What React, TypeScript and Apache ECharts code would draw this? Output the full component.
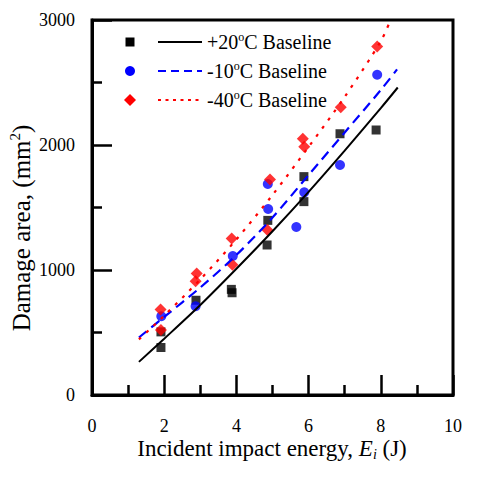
import React, { useEffect, useRef } from "react";
import * as echarts from "echarts";

const xTickLabels = ["0", "2", "4", "6", "8", "10"];
const yTickLabels = ["0", "1000", "2000", "3000"];
const seriesNames = ["+20°C Baseline", "-10°C Baseline", "-40°C Baseline"];

const e20 = [1.91, 1.91, 2.88, 3.86, 3.88, 4.85, 4.87, 5.87, 5.87, 6.87, 7.87];
const a20 = [380, 505, 758, 845, 818, 1200, 1397, 1547, 1747, 2090, 2120];
const e10 = [1.92, 2.87, 3.9, 4.88, 4.87, 5.66, 5.88, 6.87, 7.9];
const a10 = [630, 710, 1112, 1488, 1688, 1344, 1621, 1840, 2562];
const e40 = [1.9, 1.91, 2.9, 2.87, 3.87, 3.89, 4.93, 4.86, 5.84, 5.88, 6.89, 7.9];
const a40 = [685, 520, 973, 910, 1253, 1042, 1725, 1320, 2050, 1987, 2302, 2788];

const fitE20 = [1.3, 2, 3, 4, 5, 6, 7, 8, 8.47];
const fitA20 = [265, 450, 720, 1010, 1310, 1625, 1955, 2295, 2460];
const fitE10 = [1.3, 2, 3, 4, 5, 6, 7, 8, 8.45];
const fitA10 = [460, 625, 860, 1120, 1420, 1760, 2100, 2440, 2605];
const fitE40 = [1.3, 2, 3, 4, 5, 6, 7, 8, 8.27];
const fitA40 = [445, 635, 925, 1245, 1600, 1985, 2385, 2830, 3000];

const zip = (xs: number[], ys: number[]) => xs.map((x, i) => [x, ys[i]]);

const FONT = "Liberation Serif";

export default function App() {
  const ref = useRef<HTMLDivElement>(null);

  useEffect(() => {
    if (!ref.current) return;
    const chart = echarts.init(ref.current, undefined, { renderer: "svg" });

    const axisCommon = {
      axisLine: { show: true, onZero: false, lineStyle: { color: "#000", width: 3 } },
      axisTick: { show: true, inside: true, length: 20, lineStyle: { color: "#000", width: 2.5 } },
      minorTick: { show: true, splitNumber: 2, length: 10, lineStyle: { color: "#000", width: 2.5 } },
      splitLine: { show: false },
      minorSplitLine: { show: false },
    };

    const legendRows = [
      { y: 42, color: "#000", dash: null as number[] | null },
      { y: 71, color: "#0000ff", dash: [8, 5] },
      { y: 100, color: "#ff0000", dash: [3, 4.5] },
    ];

    const legendGraphics: any[] = [];
    legendGraphics.push({
      type: "rect",
      shape: { x: 125.5, y: 37.5, width: 9, height: 9 },
      style: { fill: "#000" },
    });
    legendGraphics.push({
      type: "circle",
      shape: { cx: 130, cy: 71, r: 5 },
      style: { fill: "#0000ff" },
    });
    legendGraphics.push({
      type: "polygon",
      shape: { points: [[130, 94], [136, 100], [130, 106], [124, 100]] },
      style: { fill: "#ff0000" },
    });
    legendRows.forEach((r, i) => {
      legendGraphics.push({
        type: "line",
        shape: { x1: 158, y1: r.y, x2: 202, y2: r.y },
        style: { stroke: r.color, lineWidth: 2, lineDash: r.dash || undefined },
      });
      const parts = seriesNames[i].split("°");
      legendGraphics.push({
        type: "text",
        x: 207,
        y: r.y,
        style: {
          text: "{n|" + parts[0] + "}{sup|o}{n|" + parts[1] + "}",
          fill: "#000",
          font: "20px serif",
          align: "left",
          verticalAlign: "middle",
          rich: {
            n: { font: "20px serif", fill: "#000", lineHeight: 22 },
            sup: { font: "12px serif", fill: "#000", lineHeight: 12, verticalAlign: "top" },
          },
        },
      });
    });

    chart.setOption({
      animation: false,
      backgroundColor: "#fff",
      grid: {
        left: 92,
        top: 20,
        width: 361,
        height: 375,
        show: true,
        borderColor: "#000",
        borderWidth: 3,
        containLabel: false,
      },
      xAxis: {
        type: "value",
        min: 0,
        max: 10,
        interval: 2,
        ...axisCommon,
        axisLabel: {
          color: "#000",
          fontFamily: "serif",
          fontSize: 18,
          margin: 22,
          formatter: (v: number) => xTickLabels[Math.round(v / 2)] ?? "",
        },
      },
      yAxis: {
        type: "value",
        min: 0,
        max: 3000,
        interval: 1000,
        ...axisCommon,
        axisLabel: {
          color: "#000",
          fontFamily: FONT,
          fontSize: 18,
          margin: 17,
          formatter: (v: number) => yTickLabels[Math.round(v / 1000)] ?? "",
        },
      },
      series: [
        { type: "scatter", name: seriesNames[0], data: zip(e20, a20), symbol: "rect", symbolSize: 9, itemStyle: { color: "#000" }, z: 2 },
        { type: "scatter", name: seriesNames[1], data: zip(e10, a10), symbol: "circle", symbolSize: 10, itemStyle: { color: "#0000ff" }, z: 3 },
        { type: "scatter", name: seriesNames[2], data: zip(e40, a40), symbol: "diamond", symbolSize: 12, itemStyle: { color: "#ff0000" }, z: 4 },
        { type: "line", data: zip(fitE20, fitA20), smooth: 0.3, showSymbol: false, symbol: "none", lineStyle: { color: "#000", width: 2 }, z: 5 },
        { type: "line", data: zip(fitE10, fitA10), smooth: 0.3, showSymbol: false, symbol: "none", lineStyle: { color: "#0000ff", width: 2.2, type: [10, 6] }, z: 5 },
        { type: "line", data: zip(fitE40, fitA40), smooth: 0.3, showSymbol: false, symbol: "none", lineStyle: { color: "#ff0000", width: 2.2, type: [3, 7] }, z: 5 },
      ],
      graphic: [
        ...legendGraphics,
        {
          type: "text",
          x: 272,
          y: 448,
          style: {
            text: "{n|Incident impact energy, }{it|E}{sub|i}{n| (J)}",
            fill: "#000",
            font: "23px Liberation Serif",
            align: "center",
            verticalAlign: "middle",
            rich: {
              n: { font: "23px Liberation Serif", fill: "#000", lineHeight: 26 },
              it: { font: "italic 23px Liberation Serif", fill: "#000", lineHeight: 26 },
              sub: { font: "italic 14px Liberation Serif", fill: "#000", lineHeight: 14, verticalAlign: "bottom" },
            },
          },
        },
        {
          type: "text",
          x: 21,
          y: 228,
          rotation: Math.PI / 2,
          style: {
            text: "{n|Damage area, (mm}{sup|2}{n|)}",
            fill: "#000",
            font: "25px Liberation Serif",
            align: "center",
            verticalAlign: "middle",
            rich: {
              n: { font: "25px Liberation Serif", fill: "#000", lineHeight: 28 },
              sup: { font: "15px Liberation Serif", fill: "#000", lineHeight: 14, verticalAlign: "top" },
            },
          },
        },
      ],
    });

    return () => chart.dispose();
  }, []);

  return (
    <div
      ref={ref}
      style={{ position: "absolute", left: 0, top: 0, width: 487, height: 478, background: "#fff" }}
    />
  );
}
